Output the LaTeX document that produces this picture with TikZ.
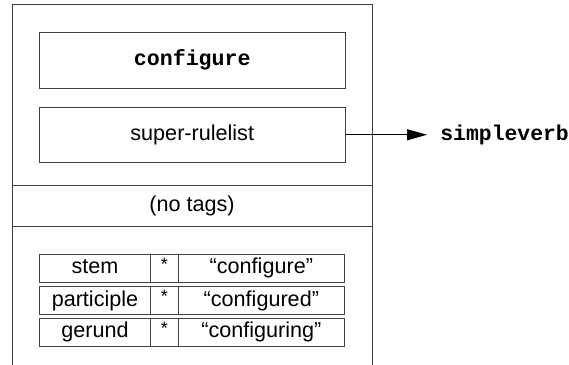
\documentclass[tikz,border=0pt]{standalone}
\usepackage{fontspec}
\setmainfont{Liberation Sans}
\setmonofont{Liberation Mono}
\usetikzlibrary{arrows.meta}
\newcommand{\formstar}{\raisebox{1.6pt}{\fontsize{9}{10}\selectfont *}}
\begin{document}
\begin{tikzpicture}[x=0.5pt,y=-0.5pt,
  frame/.style={draw=black!75,line width=0.5pt},
  box/.style={frame,minimum width=152.75pt,minimum height=27.75pt,inner sep=0pt,
    font=\fontsize{10.8}{13}\selectfont},
  cell/.style={frame,minimum height=13.8pt,inner sep=0pt,
    text height=7.9pt,text depth=2.3pt,
    font=\fontsize{10.8}{13}\selectfont},
  lbl/.style={inner sep=0pt,font=\fontsize{10.8}{13}\selectfont},
  code/.style={inner sep=0pt,font=\fontsize{10.7}{13}\ttfamily\bfseries}]
\useasboundingbox (0,0) rectangle (569,365);
% outer record frame, open at the bottom
\draw[frame] (12,365) -- (12,4) -- (372,4) -- (372,365);
\draw[frame] (12,185) -- (372,185);
\draw[frame] (12,226) -- (372,226);
% header boxes
\node[box] (name) at (192.25,60.25) {\ttfamily\bfseries configure};
\node[box] (super) at (192.25,134.75) {super-rulelist};
\node[lbl] (tags) at (192,205.5) {(no tags)};
% form table
\node[cell,minimum width=55.7pt] (stem) at (95,268.2) {stem};
\node[cell,minimum width=13.65pt] (stemstar) at (164.35,268.2) {\formstar};
\node[cell,minimum width=83.35pt] (stemval) at (261.35,268.2) {“configure”};
\node[cell,minimum width=55.7pt] (part) at (95,300.5) {participle};
\node[cell,minimum width=13.65pt] (partstar) at (164.35,300.5) {\formstar};
\node[cell,minimum width=83.35pt] (partval) at (261.35,300.5) {“configured”};
\node[cell,minimum width=55.7pt] (ger) at (95,332.2) {gerund};
\node[cell,minimum width=13.65pt] (gerstar) at (164.35,332.2) {\formstar};
\node[cell,minimum width=83.35pt] (gerval) at (261.35,332.2) {“configuring”};
% link to parent rulelist
\node[code,anchor=west] (parent) at (440,134.5) {simpleverb};
\coordinate (tip) at (427,134.75);
\draw[line width=0.5pt,-{Triangle[length=10pt,width=5.5pt]}] (super.east) -- (tip);
\end{tikzpicture}
\end{document}
